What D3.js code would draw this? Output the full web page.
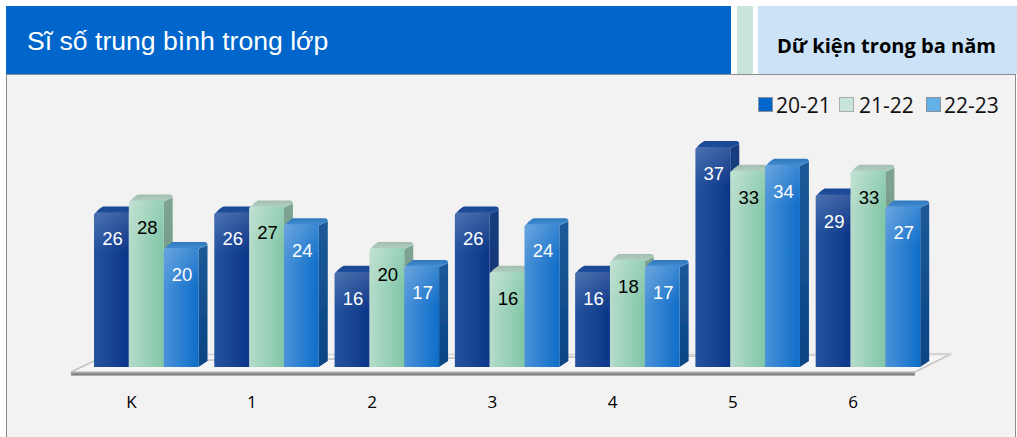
<!DOCTYPE html>
<html><head><meta charset="utf-8">
<script src="https://cdn.jsdelivr.net/npm/d3@7"></script>
<style>html,body{margin:0;padding:0;background:#fff}svg{display:block}</style>
</head><body><svg id="c" width="1017" height="437"></svg>
<script>
const categories = ["K","1","2","3","4","5","6"];
const seriesNames = ["20-21","21-22","22-23"];
const values2021 = [26,26,16,26,16,37,29];
const values2122 = [28,27,20,16,18,33,33];
const values2223 = [20,24,17,24,17,34,27];
const seriesValues = [values2021,values2122,values2223];
const titleText = "Sĩ số trung bình trong lớp";
const sideText = "Dữ kiện trong ba năm";

const svg = d3.select("#c");
const defs = svg.append("defs");
const palette = [
 {legend:"#0066CC",legendStroke:"#8a9099",front:["#25539f","#0b3588"],side:["#173e80","#0d2b6a"],top:["#1b4894","#1f4f9e"],label:"#fff"},
 {legend:"#C9E5DA",legendStroke:"#a8aeab",front:["#b6dccb","#80c6a6"],side:["#7fa494","#5f8b77"],top:["#a4bdb0","#b4d6c6"],label:"#000"},
 {legend:"#63B0E6",legendStroke:"#8a9099",front:["#4a92d8","#0f6dc9"],side:["#1c5a98","#0a4484"],top:["#2f78be","#4a94d8"],label:"#fff"}
];
function grad(id,c,vertical){
  const g=defs.append("linearGradient").attr("id",id).attr("x1",0).attr("y1",0).attr("x2",vertical?0:1).attr("y2",vertical?1:0);
  g.append("stop").attr("offset","0%").attr("stop-color",c[0]);
  g.append("stop").attr("offset","100%").attr("stop-color",c[1]);
}
palette.forEach((p,i)=>{grad("f"+i,p.front);grad("s"+i,p.side,true);grad("t"+i,p.top,true);});
const sheen=defs.append("linearGradient").attr("id","sheen").attr("x1",0).attr("y1",0).attr("x2",0).attr("y2",1);
sheen.append("stop").attr("offset","0%").attr("stop-color","#fff").attr("stop-opacity",.18);
sheen.append("stop").attr("offset","100%").attr("stop-color","#fff").attr("stop-opacity",0);
const floorG=defs.append("linearGradient").attr("id","edge").attr("x1",0).attr("y1",0).attr("x2",0).attr("y2",1);
floorG.append("stop").attr("offset","0%").attr("stop-color","#b5b5b5");
floorG.append("stop").attr("offset","60%").attr("stop-color","#7d7d7d");
floorG.append("stop").attr("offset","100%").attr("stop-color","#c4c4c4");
defs.append("filter").attr("id","soft").attr("x","-5%").attr("y","-5%").attr("width","110%").attr("height","110%")
  .append("feGaussianBlur").attr("stdDeviation",.55);

// header bands and panel
svg.append("rect").attr("x",6).attr("y",6).attr("width",725).attr("height",68).attr("fill","#0066CC");
svg.append("rect").attr("x",737).attr("y",6).attr("width",16).attr("height",68).attr("fill","#C9E5DA");
svg.append("rect").attr("x",758).attr("y",6).attr("width",259).attr("height",68).attr("fill","#CCE2F7");
svg.append("rect").attr("x",6.5).attr("y",74.5).attr("width",1009).attr("height",370).attr("fill","#F2F2F2").attr("stroke","#8c8c8c");
svg.append("text").attr("x",27).attr("y",50).attr("fill","#fff").attr("font-family","Liberation Sans").attr("font-size",26.6).text(titleText);
svg.append("text").attr("x",777).attr("y",53).attr("fill","#000").attr("font-family","Open Sans").attr("font-weight",700).attr("font-size",20).attr("textLength",219).attr("lengthAdjust","spacingAndGlyphs").text(sideText);

// scales
const x0 = d3.scaleBand().domain(categories).range([94,936]);
const groupW = 104.5;
const x1 = d3.scaleBand().domain(seriesNames).range([0,groupW]);
const y = d3.scaleLinear().domain([0,37]).range([367,147]);
const dx=9, dy=6;

// floor
const fy=372;
const plot=svg.append("g");
plot.append("path").attr("d",`M71,${fy} L94,${fy-11} L951,354 L915,${fy} Z`).attr("fill","#f5f5f5").attr("stroke","#c4c4c4").attr("stroke-width",1.6);
plot.append("line").attr("x1",94).attr("x2",951).attr("y1",354.5).attr("y2",354.5).attr("stroke","#cfd3d8").attr("stroke-width",1.5);
plot.append("rect").attr("x",71).attr("y",fy).attr("width",844).attr("height",4).attr("fill","url(#edge)");

// bars
categories.forEach((c,ci)=>{
  const g=plot.append("g").attr("transform",`translate(${x0(c)},0)`);
  const marks=g.append("g").attr("filter","url(#soft)");
  seriesNames.forEach((s,si)=>{
    const v=seriesValues[si][ci], l=x1(s), w=x1.bandwidth(), t=y(v), b=y(0);
    marks.append("path").attr("d",`M${l+w},${t+1} L${l+w+dx},${t-dy+3} V${b-dy} L${l+w},${b} Z`).attr("fill",`url(#s${si})`);
    marks.append("path").attr("d",`M${l},${t+3} Q${l+3},${t-3} ${l+dx},${t-dy} L${l+w+dx-3},${t-dy} Q${l+w+dx},${t-dy} ${l+w+dx},${t-dy+3} L${l+w},${t+1} Z`).attr("fill",`url(#t${si})`);
    marks.append("path").attr("d",`M${l},${b} V${t+3} Q${l},${t} ${l+3},${t} H${l+w} V${b} Z`).attr("fill",`url(#f${si})`);
    marks.append("rect").attr("x",l).attr("y",t).attr("width",w).attr("height",Math.min(40,b-t)).attr("fill","url(#sheen)");
  });
  seriesNames.forEach((s,si)=>{
    const v=seriesValues[si][ci], l=x1(s), w=x1.bandwidth(), t=y(v);
    g.append("text").attr("x",l+w/2+1).attr("y",t+33).attr("text-anchor","middle").attr("fill",palette[si].label)
      .attr("font-family","Liberation Sans").attr("font-size",18.5).text(v);
  });
});

// category axis
svg.append("g").selectAll("text").data(categories).join("text")
  .attr("x",d=>x0(d)+37.5).attr("y",408).attr("text-anchor","middle")
  .attr("font-family","Open Sans").attr("font-size",17).attr("fill","#000").text(d=>d);

// legend
const legX=d3.scaleOrdinal().domain(seriesNames).range([758,839,926]);
const leg=svg.append("g").selectAll("g").data(seriesNames).join("g").attr("transform",d=>`translate(${legX(d)},97)`);
leg.append("rect").attr("x",.5).attr("y",.5).attr("width",14).attr("height",14).attr("fill",(d,i)=>palette[i].legend).attr("stroke",(d,i)=>palette[i].legendStroke);
leg.append("text").attr("x",(d,i)=>i==1?20:18).attr("y",15.5).attr("font-family","Open Sans").attr("font-size",21).attr("fill","#111").text(d=>d);
</script></body></html>
